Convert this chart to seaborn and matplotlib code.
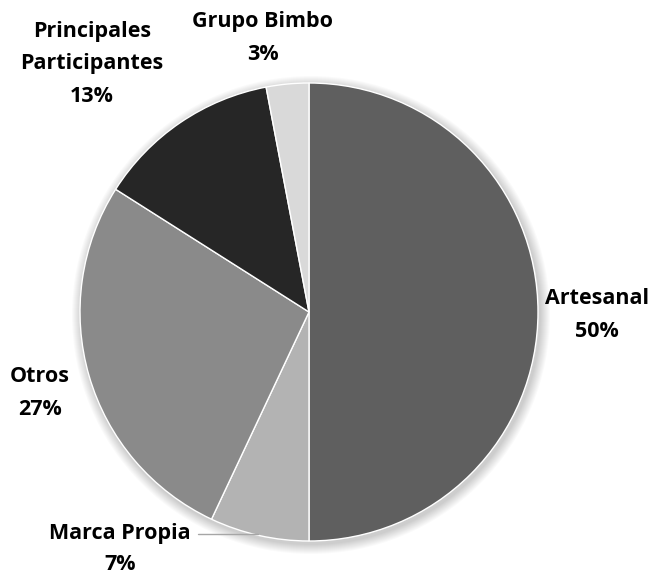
import matplotlib
matplotlib.use("Agg")
import matplotlib.pyplot as plt
import matplotlib.transforms as mtransforms
import seaborn as sns
from matplotlib.patches import Circle

sns.set_theme(style="white")
plt.rcParams["font.family"] = ["Open Sans", "DejaVu Sans"]

# Market share of the bread segment
categories = ["Artesanal", "Marca Propia", "Otros", "Principales\nParticipantes", "Grupo Bimbo"]
shares = [50, 7, 27, 13, 3]
colors = ["#5f5f5f", "#b3b3b3", "#8a8a8a", "#262626", "#d9d9d9"]

W, H = 666, 576
fig = plt.figure(figsize=(W / 100, H / 100), dpi=100)
ax = fig.add_axes([0, 0, 1, 1])

cx, cy, r = 309, 312, 229

# soft shadow under the pie
for i in range(10):
    ax.add_patch(Circle((cx + 2, cy + 3), r + 1 + i * 1.0, color="black",
                        alpha=0.02, lw=0, zorder=0))

wedges, _ = ax.pie(shares, colors=colors, startangle=90, counterclock=False,
                   center=(cx, cy), radius=r, frame=True,
                   wedgeprops=dict(edgecolor="white", linewidth=1.0))
# pie draws in y-up coordinates; flip each wedge about the center line
flip = mtransforms.Affine2D().translate(-cx, -cy).scale(1, -1).translate(cx, cy)
for w in wedges:
    w.set_transform(flip + ax.transData)
    w.set_zorder(2)
ax.set_xlim(0, W)
ax.set_ylim(H, 0)
ax.set_aspect("equal")
ax.axis("off")

fs = 15.5
kw = dict(fontsize=fs, fontweight="bold", color="black", ha="center", va="center",
          linespacing=1.7, zorder=5)

ax.text(597, 315, f"{categories[0]}\n{shares[0]}%", **kw)
ax.text(40, 393, f"{categories[2]}\n{shares[2]}%", **kw)
ax.text(120, 533, categories[1], **kw)
ax.text(120, 565, f"{shares[1]}%", **kw)
ax.plot([198, 258], [534, 534], color="#a6a6a6", lw=1, zorder=5)
ax.text(92, 64, f"{categories[3]}\n{shares[3]}%", **kw)
ax.text(263, 38, f"{categories[4]}\n{shares[4]}%", **kw)

fig.savefig("out.png", dpi=100, facecolor="white")
